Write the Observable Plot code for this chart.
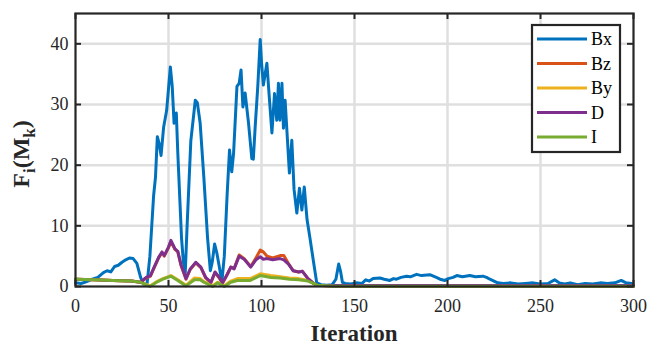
<!DOCTYPE html>
<html>
<head>
<meta charset="utf-8">
<script src="https://cdn.jsdelivr.net/npm/d3@7"></script>
<script src="https://cdn.jsdelivr.net/npm/@observablehq/plot@0.6"></script>
<style>
  html, body { margin: 0; padding: 0; background: #fff; }
  #chart { position: relative; width: 655px; height: 351px; }
  #chart svg text { font-family: "Liberation Serif", "Times New Roman", serif; }
</style>
</head>
<body>
<div id="chart"></div>
<script>
// ---- data ----
const seriesNames = ["Bx", "Bz", "By", "D", "I"];
const seriesColors = ["#0072BD", "#D95319", "#EDB120", "#7E2F8E", "#77AC30"];
const xTicks = [0, 50, 100, 150, 200, 250, 300];
const yTicks = [0, 10, 20, 30, 40];

const bxIter = [0,3,6,9,12,15,17,19,21,23,25,27,29,31,33,35,36.5,38.5,40,42,43,44,45,46,47.4,49,51,52,53,54.2,55,57,58,59,60,62,64.4,65.5,67,69,71,72.5,73.5,74.8,76,77,78.7,80,81.5,82.8,84,85,86.8,88,89,90,91.2,93,94.8,95.6,96.6,98,99.3,100,101,102.9,104,105.6,107,108.2,109.1,109.9,111,111.8,112.7,115,116.3,117.5,119,120.4,121.7,123,124.5,126,128,129.7,132,135,138,140,141.5,142.5,143.5,145,148,151,154,156,158,160,163.7,166,169,171,172.6,175,178,180,183.4,186,190.5,194,196,198.6,200.4,203,205,208,212,215,219,221,222.8,225,227,230,234,238,242,246,250,254,257.6,260,263,266,270,274,278,282,286,290,293.4,296,299];
const bxVal  = [0.6,0.5,0.8,1.2,1.5,2.3,2.6,2.4,3.3,3.5,4.0,4.4,4.7,4.6,3.8,1.5,0.4,0.5,5,15,18,24.7,23.5,21.6,26.3,29,36.2,33,26.9,28.6,22,8,4,2.2,10,24,30.7,30.3,27,18,8,2.6,4,7,5.5,3.8,0.8,5,15,22.5,18.9,22,33,33.5,35.7,29.6,31.9,27,21.1,21,26.3,33,40.7,37,33.2,36.8,32,25.3,31.8,27.4,33.5,27.4,33.5,26.1,30.7,18.7,24.1,16,12.1,16.2,12.6,16.4,11,8.1,4,0.6,0.3,0.2,0.3,1.2,3.7,2.5,0.7,0.5,0.4,0.6,0.5,1.1,0.9,1.3,1.4,1.2,1.0,1.3,1.2,1.5,1.7,1.6,2.0,1.8,1.95,1.5,1.2,1.0,1.3,1.5,1.8,1.6,1.8,1.6,1.7,1.5,1.2,0.9,0.6,0.5,0.6,0.4,0.5,0.6,0.4,0.5,1.1,0.6,0.4,0.6,0.3,0.5,0.4,0.6,0.5,0.6,1.0,0.6,0.5];

const dIter = [0,10,20,30,35,38,40.3,42,44.7,46.5,47.7,50,51.3,53.5,55,56.7,59.4,61.7,64.7,67.4,70,72.8,75,77.3,79,81.7,83.5,85.3,88,90.7,94.2,97,99.3,101,103,106,110,112,114.5,117,120,122,125,128,130,140,160,200,250,300];
const dVal  = [1.2,1.1,1.0,0.9,0.7,1.5,1.8,3.0,4.8,5.7,5.1,6.5,7.6,6.2,5.8,3.6,1.3,2.9,4.0,3.2,1.5,0.7,2.4,1.5,0.6,2.1,3.2,2.9,5.0,4.5,3.2,4.4,4.9,4.5,4.6,4.4,4.6,4.4,3.7,2.6,2.4,2.5,1.3,0.5,0.2,0.15,0.15,0.15,0.15,0.15];
const bzVal = [1.2,1.1,1.0,0.9,0.7,1.4,1.7,2.9,4.7,5.6,5.0,6.4,7.4,6.1,5.7,3.5,1.2,2.8,3.9,3.1,1.4,0.6,2.3,1.4,0.5,2.0,3.2,3.0,5.2,4.6,3.3,4.7,6.0,5.7,5.0,4.7,5.1,5.1,3.8,2.6,2.4,2.5,1.3,0.5,0.2,0.1,0.1,0.1,0.1,0.1];

const iIter = [0,10,20,30,35,40,43.6,47,51.3,55,59.4,64,67,69,73.7,76.4,80,83.5,87,94,99.3,105,110,115,120,125,128,130,140,200,300];
const iVal  = [1.2,1.1,1.0,0.9,0.7,0.0,0.7,1.2,1.7,1.0,0.1,1.1,1.1,0.7,0.0,0.6,0.0,0.7,1.0,1.0,1.8,1.5,1.4,1.2,1.1,0.9,0.5,0.2,0.05,0.05,0.05];
const byVal = [1.2,1.1,1.0,0.9,0.7,0.1,0.8,1.3,1.8,1.1,0.2,1.4,1.3,0.8,0.1,0.7,0.1,0.9,1.3,1.3,2.1,1.8,1.6,1.4,1.3,1.0,0.5,0.2,0.05,0.05,0.05];

// ---- build tidy table ----
const rows = [];
const add = (name, xs, ys) => xs.forEach((x, i) => rows.push({series: name, x, y: ys[i]}));
add("Bx", bxIter, bxVal);
add("Bz", dIter, bzVal);
add("By", iIter, byVal);
add("D", dIter, dVal);
add("I", iIter, iVal);

const W = 655, H = 351, mL = 75, mR = 22, mT = 13, mB = 65;
const fw = W - mL - mR, fh = H - mT - mB;
const ink = "#262626";
const serif = "Liberation Serif";

const lineMarks = seriesNames.map((s, i) =>
  Plot.line(rows.filter(r => r.series === s), {x: "x", y: "y", stroke: seriesColors[i], strokeWidth: 3, strokeLinejoin: "round"})
);

const plot = Plot.plot({
  width: W, height: H,
  marginLeft: mL, marginRight: mR, marginTop: mT, marginBottom: mB,
  style: {fontFamily: serif, fontSize: "18px", color: ink, background: "#fff"},
  x: {domain: [0, 300], ticks: xTicks, label: null},
  y: {domain: [0, 45], ticks: yTicks, label: null},
  marks: [
    Plot.gridX(xTicks.slice(1, -1), {stroke: "#dfdfdf", strokeOpacity: 1, strokeWidth: 2.5}),
    Plot.gridY(yTicks.slice(1), {stroke: "#dfdfdf", strokeOpacity: 1, strokeWidth: 2.5}),
    ...lineMarks,
    Plot.frame({stroke: ink, strokeWidth: 2.2}),
    Plot.tickX(xTicks, {x: d => d, insetTop: fh - 6, stroke: ink, strokeWidth: 2}),
    Plot.tickX(xTicks, {x: d => d, insetBottom: fh - 6, stroke: ink, strokeWidth: 2}),
    Plot.tickY(yTicks, {y: d => d, insetRight: fw - 6, stroke: ink, strokeWidth: 2}),
    Plot.tickY(yTicks, {y: d => d, insetLeft: fw - 6, stroke: ink, strokeWidth: 2}),
    Plot.axisX(xTicks, {tickSize: 0, tickPadding: 13, fontSize: 18, fontFamily: serif, fill: ink, label: null}),
    Plot.axisY(yTicks, {tickSize: 0, tickPadding: 7, fontSize: 18, fontFamily: serif, fill: ink, label: null})
  ]
});

document.getElementById("chart").appendChild(plot);
const svg = d3.select(plot);

// x label
svg.append("text")
  .attr("x", mL + fw / 2).attr("y", 341)
  .attr("text-anchor", "middle")
  .attr("font-family", serif).attr("font-weight", "bold").attr("font-size", 23)
  .attr("fill", ink).text("Iteration");

// y label with subscripts
const yl = svg.append("text")
  .attr("transform", `translate(29,154) rotate(-90)`)
  .attr("text-anchor", "middle")
  .attr("font-family", serif)
  .attr("font-weight", "bold")
  .attr("font-size", 24)
  .attr("fill", ink);
yl.append("tspan").text("F");
yl.append("tspan").attr("font-size", 17).attr("dy", 6).text("i");
yl.append("tspan").attr("dy", -6).text("(M");
yl.append("tspan").attr("font-size", 17).attr("dy", 6).text("k");
yl.append("tspan").attr("dy", -6).text(")");

// legend
const lg = svg.append("g").attr("transform", "translate(532,25)");
lg.append("rect").attr("width", 88).attr("height", 127).attr("fill", "#fff").attr("stroke", ink).attr("stroke-width", 2.2);
seriesNames.forEach((s, i) => {
  const yy = 14 + i * 24.5;
  lg.append("line").attr("x1", 5).attr("x2", 55).attr("y1", yy).attr("y2", yy)
    .attr("stroke", seriesColors[i]).attr("stroke-width", 3);
  lg.append("text").attr("x", 59).attr("y", yy).attr("dy", "0.35em")
    .attr("text-anchor", "start")
    .attr("font-family", serif).attr("font-size", 18).attr("fill", "#000").text(s);
});
</script>
</body>
</html>
